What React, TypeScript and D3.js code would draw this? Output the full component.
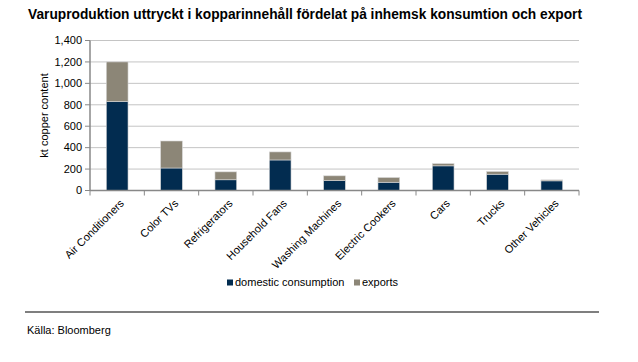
import React from "react";
import * as d3 from "d3";

const categories = [
  "Air Conditioners",
  "Color TVs",
  "Refrigerators",
  "Household Fans",
  "Washing Machines",
  "Electric Cookers",
  "Cars",
  "Trucks",
  "Other Vehicles",
];
const domestic = [830, 210, 100, 285, 92, 77, 230, 152, 90];
const exportsVals = [370, 252, 74, 75, 45, 44, 21, 25, 9];
const yTicks = [0, 200, 400, 600, 800, 1000, 1200, 1400];
const seriesNames = ["domestic consumption", "exports"];
const colors = ["#022c50", "#8c8677"];

const W = 638;
const H = 362;
const margin = { left: 90, right: 59, top: 40.5, bottom: 171.5 };

export default function App() {
  const x = d3
    .scaleBand<string>()
    .domain(categories)
    .range([margin.left, W - margin.right])
    .paddingInner(0.6)
    .paddingOuter(0.3);
  const y = d3.scaleLinear().domain([0, 1400]).range([H - margin.bottom, margin.top]);
  const step = x.step();
  const x0 = margin.left;
  const x1 = W - margin.right;
  const font = "Arial, 'Liberation Sans', sans-serif";

  const stacked = categories.map((c, i) => ({
    c,
    segs: [
      { y0: 0, y1: domestic[i], color: colors[0] },
      { y0: domestic[i], y1: domestic[i] + exportsVals[i], color: colors[1] },
    ],
  }));

  return (
    <svg width={W} height={H} style={{ position: "absolute", left: 0, top: 0, background: "#fff" }} fontFamily={font}>
      <text x={28} y={19} fontSize={14.5} fontWeight="bold" fill="#000" textLength={554} lengthAdjust="spacingAndGlyphs">
        Varuproduktion uttryckt i kopparinnehåll fördelat på inhemsk konsumtion och export
      </text>

      {/* gridlines */}
      {yTicks.map((t) => (
        <line key={t} x1={x0} x2={x1} y1={y(t)} y2={y(t)} stroke="#c4c4c4" strokeWidth={1} />
      ))}

      {/* bars */}
      {stacked.map((d) =>
        d.segs.map((s, j) => (
          <rect
            key={d.c + j}
            x={x(d.c)!}
            width={x.bandwidth()}
            y={y(s.y1)}
            height={y(s.y0) - y(s.y1)}
            fill={s.color}
            stroke="#d8d8d8"
            strokeWidth={0.6}
          />
        ))
      )}

      {/* y axis */}
      <line x1={x0} x2={x0} y1={y(1400)} y2={y(0)} stroke="#888" strokeWidth={1.5} />
      {yTicks.map((t) => (
        <g key={t}>
          <line x1={x0 - 5} x2={x0} y1={y(t)} y2={y(t)} stroke="#888" strokeWidth={1} />
          <text x={x0 - 8} y={y(t)} dy="0.35em" textAnchor="end" fontSize={11} fill="#000">
            {d3.format(",")(t)}
          </text>
        </g>
      ))}
      <text
        transform={`translate(48,${(y(0) + y(1400)) / 2}) rotate(-90)`}
        textAnchor="middle"
        fontSize={11}
        fill="#000"
      >
        kt copper content
      </text>

      {/* x axis */}
      <line x1={x0} x2={x1} y1={y(0)} y2={y(0)} stroke="#888" strokeWidth={1.5} />
      {d3.range(categories.length + 1).map((i) => (
        <line key={i} x1={x0 + step * i} x2={x0 + step * i} y1={y(0)} y2={y(0) + 5} stroke="#888" strokeWidth={1} />
      ))}
      {categories.map((c) => {
        const cx = x(c)! + x.bandwidth() / 2;
        return (
          <text
            key={c}
            transform={`translate(${cx + 2},${y(0) + 8}) rotate(-45)`}
            textAnchor="end"
            dy="0.71em"
            fontSize={11}
            fill="#000"
          >
            {c}
          </text>
        );
      })}

      {/* legend */}
      {seriesNames.map((n, i) => {
        const lx = i === 0 ? 227 : 354;
        return (
          <g key={n}>
            <rect x={lx} y={279.5} width={6} height={6} fill={colors[i]} />
            <text x={lx + 8} y={286} fontSize={11} fill="#000">
              {n}
            </text>
          </g>
        );
      })}

      <line x1={25} x2={599} y1={312} y2={312} stroke="#000" strokeWidth={1.2} />
      <text x={27} y={334} fontSize={11} fill="#000">
        Källa: Bloomberg
      </text>
    </svg>
  );
}
